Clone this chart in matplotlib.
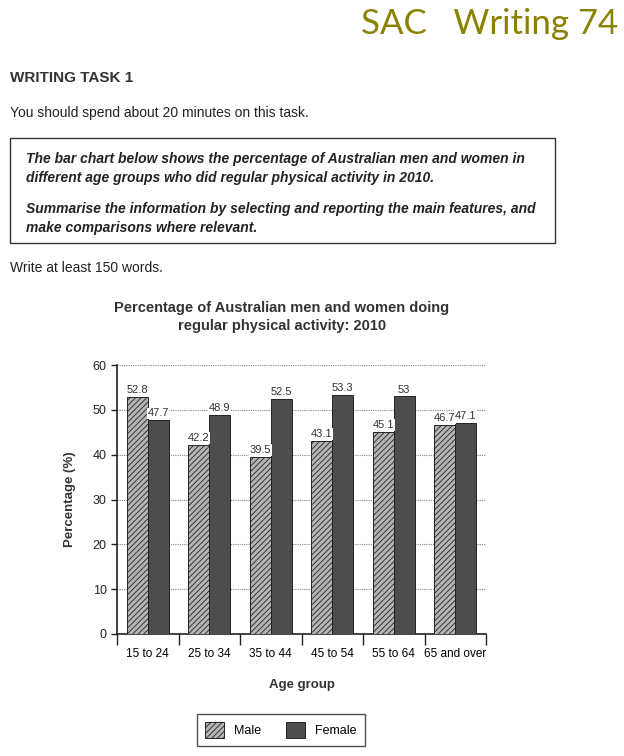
import matplotlib.pyplot as plt
import matplotlib.patches as mpatches
import numpy as np

plt.rcParams['font.family'] = ['Liberation Sans', 'DejaVu Sans']
plt.rcParams['hatch.color'] = '#6e6e6e'
plt.rcParams['hatch.linewidth'] = 0.6

# data
age_groups = ['15 to 24', '25 to 34', '35 to 44', '45 to 54', '55 to 64', '65 and over']
male = [52.8, 42.2, 39.5, 43.1, 45.1, 46.7]
female = [47.7, 48.9, 52.5, 53.3, 53.0, 47.1]
male_labels = ['52.8', '42.2', '39.5', '43.1', '45.1', '46.7']
female_labels = ['47.7', '48.9', '52.5', '53.3', '53', '47.1']
y_ticks = [0, 10, 20, 30, 40, 50, 60]

W, H = 624, 756
fig = plt.figure(figsize=(W / 100, H / 100), dpi=100)


def px(x, y):
    return x / W, 1 - y / H


# page header / task text
fig.text(*px(618, 24), 'SAC   Writing 74', ha='right', va='center',
         fontsize=25, color='#8a8200', family=['Lato', 'DejaVu Sans'])
fig.text(*px(10, 78), 'WRITING TASK 1', ha='left', va='center',
         fontsize=11, fontweight='bold', color='#333333')
fig.text(*px(10, 113), 'You should spend about 20 minutes on this task.',
         ha='left', va='center', fontsize=10, color='#222222')

box = mpatches.Rectangle(px(10, 243), 545 / W, 105 / H, transform=fig.transFigure,
                         fill=False, edgecolor='#333333', linewidth=1.0)
fig.add_artist(box)
task_lines = [
    (159, 'The bar chart below shows the percentage of Australian men and women in'),
    (178, 'different age groups who did regular physical activity in 2010.'),
    (209, 'Summarise the information by selecting and reporting the main features, and'),
    (228, 'make comparisons where relevant.'),
]
for y, line in task_lines:
    fig.text(*px(26, y), line, ha='left', va='center', fontsize=10,
             fontweight='bold', fontstyle='italic', color='#222222')

fig.text(*px(10, 268), 'Write at least 150 words.', ha='left', va='center',
         fontsize=10, color='#222222')

# chart title
fig.text(*px(282, 308), 'Percentage of Australian men and women doing',
         ha='center', va='center', fontsize=10.5, fontweight='bold', color='#333333')
fig.text(*px(282, 326), 'regular physical activity: 2010',
         ha='center', va='center', fontsize=10.5, fontweight='bold', color='#333333')

# axes
l, b = px(117, 634)
r, t = px(486, 365)
ax = fig.add_axes([l, b, r - l, t - b])

x = np.arange(len(age_groups))
bw = 0.34
mb = ax.bar(x - bw / 2, male, bw, color='#b4b4b4', edgecolor='#222222',
            linewidth=0.7, hatch='//////', label='Male', zorder=3)
fb = ax.bar(x + bw / 2, female, bw, color='#4d4d4d', edgecolor='#222222',
            linewidth=0.7, label='Female', zorder=3)

for rect, lab in zip(mb, male_labels):
    ax.text(rect.get_x() + rect.get_width() / 2, rect.get_height() + 0.4, lab,
            ha='center', va='bottom', fontsize=8, color='#333333', zorder=4,
            bbox=dict(facecolor='white', edgecolor='none', pad=0.5))
for rect, lab in zip(fb, female_labels):
    ax.text(rect.get_x() + rect.get_width() / 2, rect.get_height() + 0.4, lab,
            ha='center', va='bottom', fontsize=8, color='#333333', zorder=4,
            bbox=dict(facecolor='white', edgecolor='none', pad=0.5))

ax.set_xlim(-0.5, len(age_groups) - 0.5)
ax.set_ylim(0, 60)
ax.set_yticks(y_ticks)
ax.tick_params(axis='y', labelsize=9, length=4, width=1, colors='#222222')
ax.yaxis.grid(True, color='#888888', linestyle=(0, (1, 1)), linewidth=0.8, zorder=0)

# category labels centred, tick marks between categories
ax.set_xticks(np.arange(-0.5, len(age_groups), 1.0))
ax.set_xticklabels([])
ax.tick_params(axis='x', length=8, width=1, direction='out', colors='#222222')
ax.set_xticks(x, minor=True)
ax.set_xticklabels(age_groups, minor=True)
ax.tick_params(axis='x', which='minor', length=0, labelsize=8.5, pad=10)

for s in ['top', 'right']:
    ax.spines[s].set_visible(False)
for s in ['left', 'bottom']:
    ax.spines[s].set_linewidth(1.2)
    ax.spines[s].set_color('#222222')

ax.set_ylabel('Percentage (%)', fontsize=9.5, fontweight='bold', color='#333333', labelpad=12)
ax.set_xlabel('Age group', fontsize=9.5, fontweight='bold', color='#333333', labelpad=14)

fig.legend(handles=[mb, fb], labels=['Male', 'Female'], loc='center',
           bbox_to_anchor=px(281, 730), ncol=2, fontsize=9, frameon=True,
           fancybox=False, edgecolor='#222222', handlelength=1.5, handleheight=1.5,
           columnspacing=2.0, borderpad=0.7)

fig.savefig('out.png', dpi=100)
